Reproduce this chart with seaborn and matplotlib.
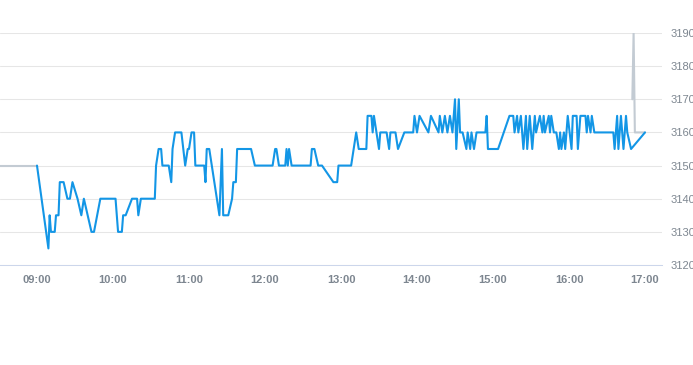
"""
Intraday price line, 09:00-17:00, with the grey pre/post session pieces.
"""

import pandas as pd
import matplotlib
matplotlib.use("Agg")
import matplotlib.pyplot as plt
import matplotlib.dates as mdates
import seaborn as sns

# ── data ─────────────────────────────────────────────────────────────────────

day = "2024-01-02"

session_times = [
    "09:00", "09:09", "09:10", "09:11", "09:14", "09:15", "09:17", "09:18", "09:21", "09:24",
    "09:26", "09:28", "09:32", "09:35", "09:37", "09:43", "09:45", "09:50", "10:02", "10:04",
    "10:07", "10:08", "10:10", "10:15", "10:19", "10:20", "10:22", "10:33", "10:34", "10:36",
    "10:38", "10:39", "10:44", "10:46", "10:47", "10:49", "10:54", "10:57", "10:59", "11:00",
    "11:02", "11:04", "11:05", "11:12", "11:13", "11:14", "11:16", "11:24", "11:26", "11:27",
    "11:31", "11:34", "11:35", "11:37", "11:38", "11:49", "11:52", "12:06", "12:08", "12:09",
    "12:11", "12:16", "12:17", "12:18", "12:19", "12:21", "12:36", "12:37", "12:39", "12:42",
    "12:45", "12:54", "12:57", "12:58", "13:08", "13:10", "13:12", "13:14", "13:20", "13:21",
    "13:24", "13:25", "13:26", "13:30", "13:31", "13:36", "13:38", "13:39", "13:43", "13:45",
    "13:50", "13:57", "13:58", "14:00", "14:02", "14:09", "14:11", "14:17", "14:18", "14:20",
    "14:22", "14:24", "14:26", "14:28", "14:30", "14:31", "14:33", "14:34", "14:36", "14:39",
    "14:40", "14:42", "14:43", "14:45", "14:47", "14:54", "14:55", "14:56", "15:04", "15:13",
    "15:16", "15:17", "15:19", "15:20", "15:22", "15:24", "15:26", "15:27", "15:29", "15:31",
    "15:33", "15:34", "15:37", "15:39", "15:40", "15:41", "15:44", "15:45", "15:46", "15:48",
    "15:50", "15:52", "15:53", "15:54", "15:56", "15:57", "15:59", "16:02", "16:03", "16:06",
    "16:07", "16:09", "16:13", "16:14", "16:15", "16:17", "16:18", "16:20", "16:35", "16:36",
    "16:38", "16:39", "16:41", "16:43", "16:45", "16:46", "16:49", "17:00",
]
session_prices = [
    3150, 3125, 3135, 3130, 3130, 3135, 3135, 3145, 3145, 3140,
    3140, 3145, 3140, 3135, 3140, 3130, 3130, 3140, 3140, 3130,
    3130, 3135, 3135, 3140, 3140, 3135, 3140, 3140, 3150, 3155,
    3155, 3150, 3150, 3145, 3155, 3160, 3160, 3150, 3155, 3155,
    3160, 3160, 3150, 3150, 3145, 3155, 3155, 3135, 3155, 3135,
    3135, 3140, 3145, 3145, 3155, 3155, 3150, 3150, 3155, 3155,
    3150, 3150, 3155, 3150, 3155, 3150, 3150, 3155, 3155, 3150,
    3150, 3145, 3145, 3150, 3150, 3155, 3160, 3155, 3155, 3165,
    3165, 3160, 3165, 3155, 3160, 3160, 3155, 3160, 3160, 3155,
    3160, 3160, 3165, 3160, 3165, 3160, 3165, 3160, 3165, 3160,
    3165, 3160, 3165, 3160, 3170, 3155, 3170, 3160, 3160, 3155,
    3160, 3155, 3160, 3155, 3160, 3160, 3165, 3155, 3155, 3165,
    3165, 3160, 3165, 3160, 3165, 3155, 3165, 3155, 3165, 3155,
    3165, 3160, 3165, 3160, 3165, 3160, 3165, 3160, 3165, 3160,
    3160, 3155, 3160, 3155, 3160, 3155, 3165, 3155, 3165, 3165,
    3155, 3165, 3165, 3160, 3165, 3160, 3165, 3160, 3160, 3155,
    3165, 3155, 3165, 3155, 3165, 3160, 3155, 3160,
]

pre_times = ["08:30", "09:00"]
pre_prices = [3150, 3150]

post_times = ["16:50", "16:51", "16:52", "17:00"]
post_prices = [3170, 3190, 3160, 3160]

hour_ticks = ["09:00", "10:00", "11:00", "12:00", "13:00", "14:00", "15:00", "16:00", "17:00"]
price_ticks = [3120, 3130, 3140, 3150, 3160, 3170, 3180, 3190]


def to_frame(times, prices):
    return pd.DataFrame({
        "time": pd.to_datetime([f"{day} {t}" for t in times]),
        "price": prices,
    })


session = to_frame(session_times, session_prices)
pre = to_frame(pre_times, pre_prices)
post = to_frame(post_times, post_prices)

# ── plot ─────────────────────────────────────────────────────────────────────

sns.set_style("white")
plt.rcParams["font.family"] = ["Liberation Sans", "DejaVu Sans"]

W, H = 693, 365
fig = plt.figure(figsize=(W / 100, H / 100), dpi=100)
ax = fig.add_axes([0, (H - 265) / H, 662 / W, (265 - 33) / H])

grey = "#c3cbd3"
blue = "#1396e6"
label_col = "#7d8690"

sns.lineplot(data=pre, x="time", y="price", ax=ax, color=grey, lw=1.5,
             estimator=None, sort=False)
sns.lineplot(data=post, x="time", y="price", ax=ax, color=grey, lw=1.5,
             estimator=None, sort=False)
sns.lineplot(data=session, x="time", y="price", ax=ax, color=blue, lw=1.5,
             estimator=None, sort=False)

t0 = pd.Timestamp(f"{day} 09:00")
px_min = 60 / 76                       # minutes per pixel
ax.set_xlim(t0 - pd.Timedelta(minutes=37 * px_min),
            t0 + pd.Timedelta(minutes=(662 - 37) * px_min))
ax.set_ylim(price_ticks[0], price_ticks[-1])

ax.set_xticks(pd.to_datetime([f"{day} {t}" for t in hour_ticks]))
ax.xaxis.set_major_formatter(mdates.DateFormatter("%H:%M"))
ax.set_yticks(price_ticks)

ax.yaxis.tick_right()
ax.grid(axis="y", color="#e6e6e6", lw=0.75)
ax.grid(axis="x", visible=False)
for side in ["top", "left", "right"]:
    ax.spines[side].set_visible(False)
ax.spines["bottom"].set_color("#ccd6eb")
ax.spines["bottom"].set_linewidth(0.75)

ax.tick_params(axis="x", length=3, width=0.75, color="#ccd6eb", pad=4,
               labelsize=8, labelcolor=label_col)
ax.tick_params(axis="y", length=0, pad=6, labelsize=8, labelcolor=label_col)
for lab in ax.get_xticklabels():
    lab.set_fontweight("bold")

ax.set_xlabel("")
ax.set_ylabel("")

fig.savefig("out.png", dpi=100)
plt.close(fig)
